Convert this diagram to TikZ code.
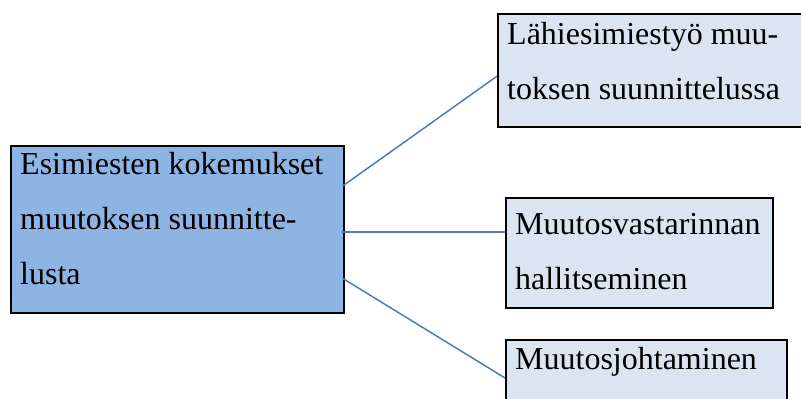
\documentclass[tikz,border=0pt]{standalone}
\usepackage{fontspec}
\setmainfont{Liberation Serif}
\definecolor{darkfill}{HTML}{8EB4E3}
\definecolor{lightfill}{HTML}{DBE5F1}
\definecolor{connblue}{HTML}{4A7EBB}
\begin{document}
\begin{tikzpicture}[x=1pt,y=1pt,
  boxbase/.style={draw=black, line width=2.4pt, inner sep=0pt, anchor=north west},
  mainbox/.style={boxbase, fill=darkfill},
  subbox/.style={boxbase, fill=lightfill},
  boxtext/.style={inner sep=0pt, anchor=base west, align=left,
     font=\fontsize{32}{55}\selectfont},
  conn/.style={draw=connblue, line width=1.5pt}]
\useasboundingbox (0,0) rectangle (801,399);
\begin{scope}
\clip (0,0) rectangle (801,399);
% boxes (top-left corners, y measured upward)
\node[mainbox, minimum width=333pt, minimum height=167pt] (L) at (10,254) {};
\node[subbox, minimum width=310pt, minimum height=113pt] (A) at (497,386) {};
\node[subbox, minimum width=267pt, minimum height=110pt] (B) at (505,202) {};
\node[subbox, minimum width=281pt, minimum height=80pt] (C) at (505,60) {};
% texts (anchored at the baseline of their last line)
\node[boxtext] (Lt) at (20,114) {Esimiesten kokemukset\\muutoksen suunnitte-\\lusta};
\node[boxtext] (At) at (507,299) {Lähiesimiestyö muu-\\toksen suunnittelussa};
\node[boxtext] (Bt) at (515,109) {Muutosvastarinnan\\hallitseminen};
\node[boxtext] (Ct) at (515,29) {Muutosjohtaminen};
% connectors
\draw[conn] ([xshift=-3pt,yshift=43.5pt]L.east) -- ([yshift=-5.5pt]A.west);
\draw[conn] ([xshift=-3pt,yshift=-2.5pt]L.east) -- ([yshift=21pt]B.west);
\draw[conn] ([xshift=-3pt,yshift=-48.5pt]L.east) -- ([yshift=-39pt]C.north west);
\end{scope}
\end{tikzpicture}
\end{document}
